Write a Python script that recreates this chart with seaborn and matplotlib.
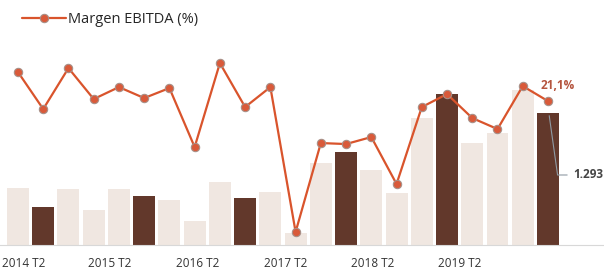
import numpy as np
import pandas as pd
import matplotlib
matplotlib.use("Agg")
from matplotlib import pyplot as plt
import seaborn as sns

# datos
periodos = ["2014 T1", "2014 T2", "2014 T3", "2014 T4",
            "2015 T1", "2015 T2", "2015 T3", "2015 T4",
            "2016 T1", "2016 T2", "2016 T3", "2016 T4",
            "2017 T1", "2017 T2", "2017 T3", "2017 T4",
            "2018 T1", "2018 T2", "2018 T3", "2018 T4",
            "2019 T1", "2019 T2"]
ebitda = [558, 372, 549, 343, 549, 480, 441, 235, 617, 460, 519, 118,
          803, 911, 735, 509, 1244, 1479, 999, 1097, 1518, 1293]
margen = [24.0, 20.3, 24.4, 21.3, 22.5, 21.4, 22.4, 16.5, 24.9, 20.5, 22.5, 8.0,
          16.9, 16.8, 17.5, 12.8, 20.5, 21.8, 19.4, 18.3, 22.6, 21.1]
tick_labels = ["2014 T2", "2015 T2", "2016 T2", "2017 T2", "2018 T2", "2019 T2"]
tick_pos = [0.24, 3.64, 7.13, 10.62, 14.07, 17.51]

df = pd.DataFrame({"periodo": periodos, "ebitda": ebitda, "margen": margen})
df["idx"] = np.arange(len(df))
df["tipo"] = ["T2" if p.endswith("T2") else "otro" for p in periodos]

sns.set_style("white")
plt.rcParams["font.family"] = ["Open Sans", "DejaVu Sans"]

fig = plt.figure(figsize=(6.04, 2.72), dpi=100)
ax = fig.add_axes([0, 0.0993, 1, 0.79])

sns.barplot(data=df, x="idx", y="ebitda", hue="tipo", dodge=False,
            palette={"T2": "#6b3322", "otro": "#f3e7de"}, width=0.87,
            legend=False, ax=ax, linewidth=0)

ax.set_xlim(-0.713, 23.22)
ax.set_ylim(0, 2106)
ax.set_xticks(tick_pos)
ax.set_xticklabels(tick_labels, fontsize=8.5, color="#333333")
ax.tick_params(axis="x", length=0, pad=9)
ax.set_yticks([])
ax.set_xlabel("")
ax.set_ylabel("")
for s in ["top", "left", "right"]:
    ax.spines[s].set_visible(False)
ax.spines["bottom"].set_color("#d8d8d8")
ax.spines["bottom"].set_linewidth(0.8)

# margen EBITDA
ax2 = ax.twinx()
sns.lineplot(data=df, x="idx", y="margen", ax=ax2, color="#d9542c", linewidth=1.6,
             marker="o", markersize=6, markerfacecolor="#d95a3a",
             markeredgecolor="#a89088", markeredgewidth=0.8,
             label="Margen EBITDA (%)", legend=False)
ax2.set_ylim(6.7, 28.2)
ax2.set_xlim(-0.713, 23.22)
ax2.set_yticks([])
ax2.set_ylabel("")
ax2.set_xlabel("")
for s in ["top", "left", "right", "bottom"]:
    ax2.spines[s].set_visible(False)

ax2.text(df["idx"].iloc[-1] - 0.3, margen[-1] + 1.6, "21,1%", fontsize=8.5,
         fontweight="bold", color="#b5553f", ha="left", va="center")

ax.annotate("1.293", xy=(21.05, ebitda[-1] * 0.98), xytext=(22.0, 686),
            fontsize=8.5, fontweight="bold", color="#444444", va="center",
            arrowprops=dict(arrowstyle="-", color="#8f9aa3", lw=0.8,
                            shrinkA=2, shrinkB=0,
                            connectionstyle="angle,angleA=0,angleB=98,rad=0"))

handles, labels = ax2.get_legend_handles_labels()
fig.legend(handles, labels, loc="upper left", bbox_to_anchor=(0.015, 1.005),
           frameon=False, fontsize=10.5, handlelength=3.0, handletextpad=0.15)

fig.savefig("out.png", dpi=100)
